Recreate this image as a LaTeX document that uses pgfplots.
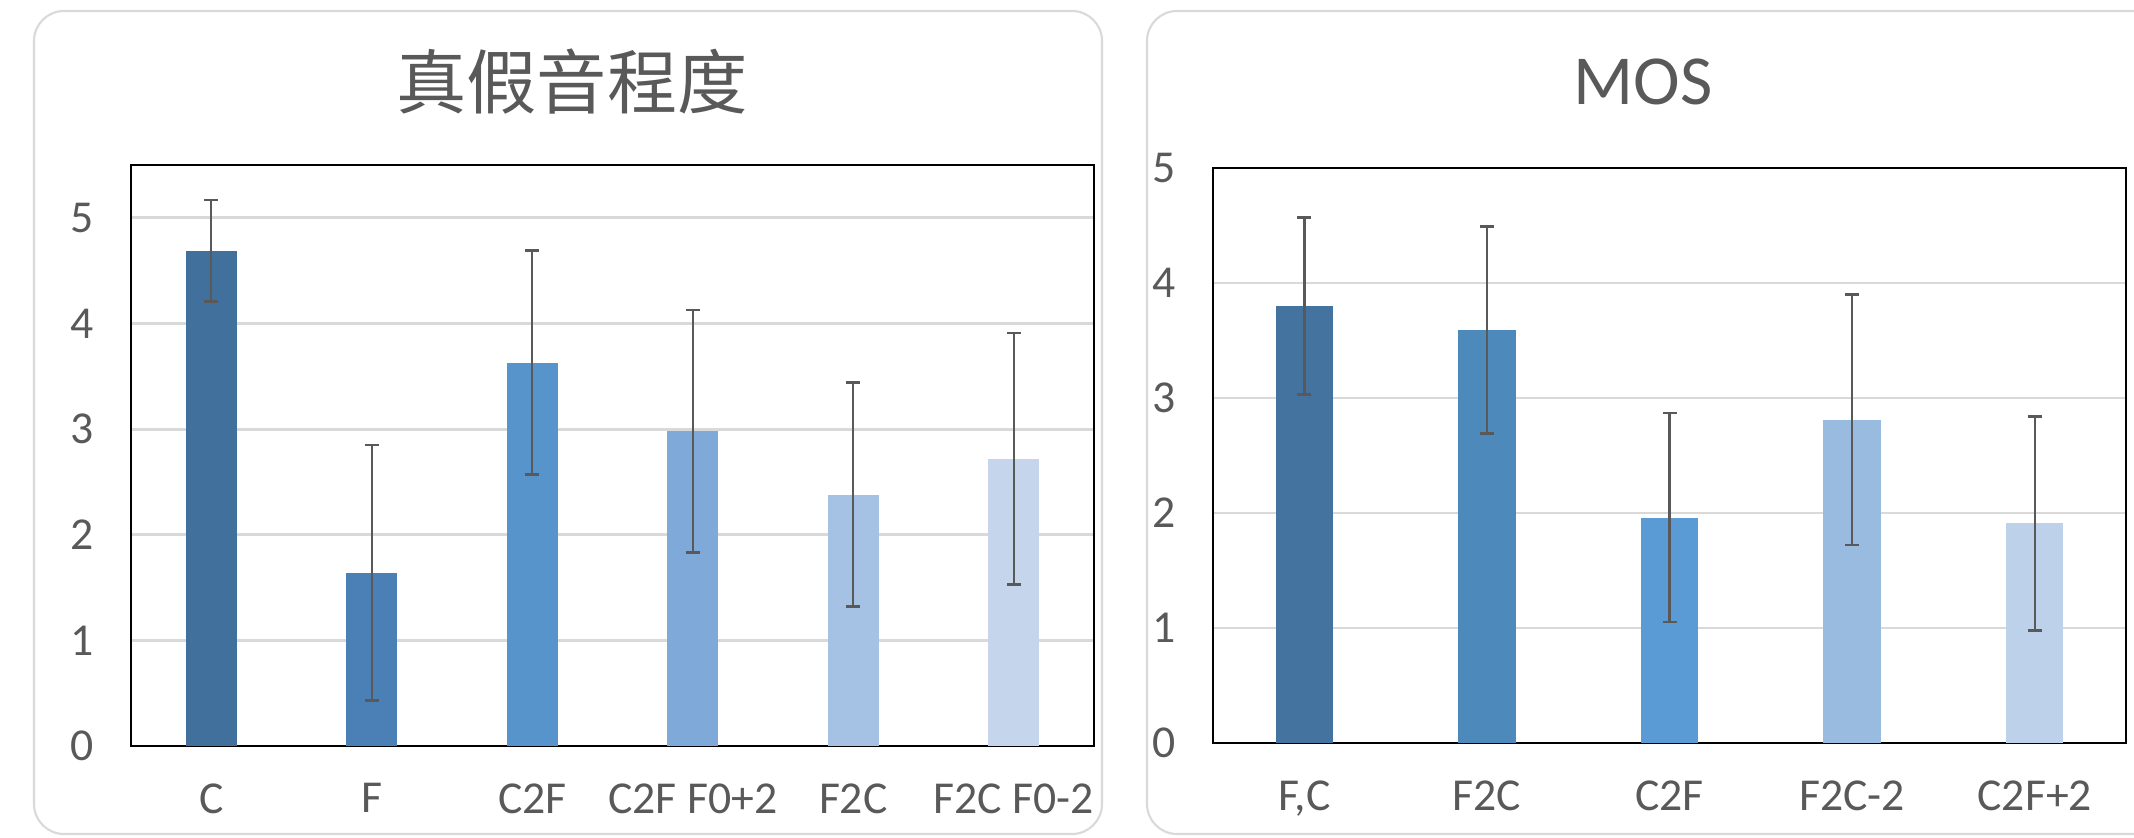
\documentclass[border=0pt]{standalone}
\usepackage{pgfplots}
\pgfplotsset{compat=1.18}
\usepackage{fontspec}
\setmainfont{Carlito}
\newfontfamily\cjk{Noto Sans CJK TC}
\definecolor{txt}{HTML}{595959}
\definecolor{Lone}{HTML}{41709C}
\definecolor{Ltwo}{HTML}{4A80B6}
\definecolor{Lthree}{HTML}{5694CB}
\definecolor{Lfour}{HTML}{7EA9D9}
\definecolor{Lfive}{HTML}{A5C1E4}
\definecolor{Lsix}{HTML}{C5D6EC}
\definecolor{Rone}{HTML}{44739F}
\definecolor{Rtwo}{HTML}{4E89BC}
\definecolor{Rthree}{HTML}{5B9BD5}
\definecolor{Rfour}{HTML}{9ABBE0}
\definecolor{Rfive}{HTML}{BDD1EB}

\pgfplotsset{
  panel/.style={
    anchor=south west, scale only axis,
    ybar, bar shift=0pt,
    ymin=0, xmin=-0.5,
    ytick={0,1,2,3,4,5},
    major tick length=0pt,
    ymajorgrids, grid style={draw=black!15, line width=0.8pt},
    axis line style={line width=0.7pt},
    tick label style={font=\fontsize{13}{15}\selectfont, text=txt},
    /pgf/number format/assume math mode=true,
    yticklabel style={xshift=-0.25cm},
    xticklabel style={yshift=-0.25cm},
    error bars/y dir=both, error bars/y explicit,
    error bars/error bar style={line width=0.7pt, color=black!65},
    error bars/error mark options={rotate=90, mark size=0.07cm, line width=0.7pt, color=black!65},
  },
}

\begin{document}
\begin{tikzpicture}
\useasboundingbox (0,0) rectangle (21.34,8.37);
\draw[black!15, line width=0.6pt, rounded corners=0.3cm] (0.34,0.03) rectangle (11.02,8.26);
\draw[black!15, line width=0.6pt, rounded corners=0.3cm] (11.47,0.03) rectangle (21.8,8.26);

\node[text=txt, font=\cjk\fontsize{20}{24}\selectfont] at (5.72,7.55) {真假音程度};
\node[text=txt, font=\fontsize{20}{24}\selectfont] at (16.43,7.55) {MOS};

\begin{axis}[panel,
  at={(1.31cm,0.91cm)}, width=9.63cm, height=5.81cm,
  xmax=5.5, ymax=5.5, bar width=0.51cm,
  xtick={0,1,2,3,4,5},
  xticklabels={C, F, C2F, C2F F0+2, F2C, F2C F0-2},
]
\addplot[fill=Lone, draw=none] coordinates {(0,4.69) +- (0,0.48)};
\addplot[fill=Ltwo, draw=none] coordinates {(1,1.64) +- (0,1.21)};
\addplot[fill=Lthree, draw=none] coordinates {(2,3.63) +- (0,1.06)};
\addplot[fill=Lfour, draw=none] coordinates {(3,2.98) +- (0,1.15)};
\addplot[fill=Lfive, draw=none] coordinates {(4,2.38) +- (0,1.06)};
\addplot[fill=Lsix, draw=none] coordinates {(5,2.72) +- (0,1.19)};
\end{axis}

\begin{axis}[panel,
  at={(12.13cm,0.94cm)}, width=9.13cm, height=5.75cm,
  xmax=4.5, ymax=5, bar width=0.575cm,
  xtick={0,1,2,3,4},
  xticklabels={{F,C}, F2C, C2F, F2C-2, C2F+2},
]
\addplot[fill=Rone, draw=none] coordinates {(0,3.80) +- (0,0.77)};
\addplot[fill=Rtwo, draw=none] coordinates {(1,3.59) +- (0,0.90)};
\addplot[fill=Rthree, draw=none] coordinates {(2,1.96) +- (0,0.91)};
\addplot[fill=Rfour, draw=none] coordinates {(3,2.81) +- (0,1.09)};
\addplot[fill=Rfive, draw=none] coordinates {(4,1.91) +- (0,0.93)};
\end{axis}
\end{tikzpicture}
\end{document}
